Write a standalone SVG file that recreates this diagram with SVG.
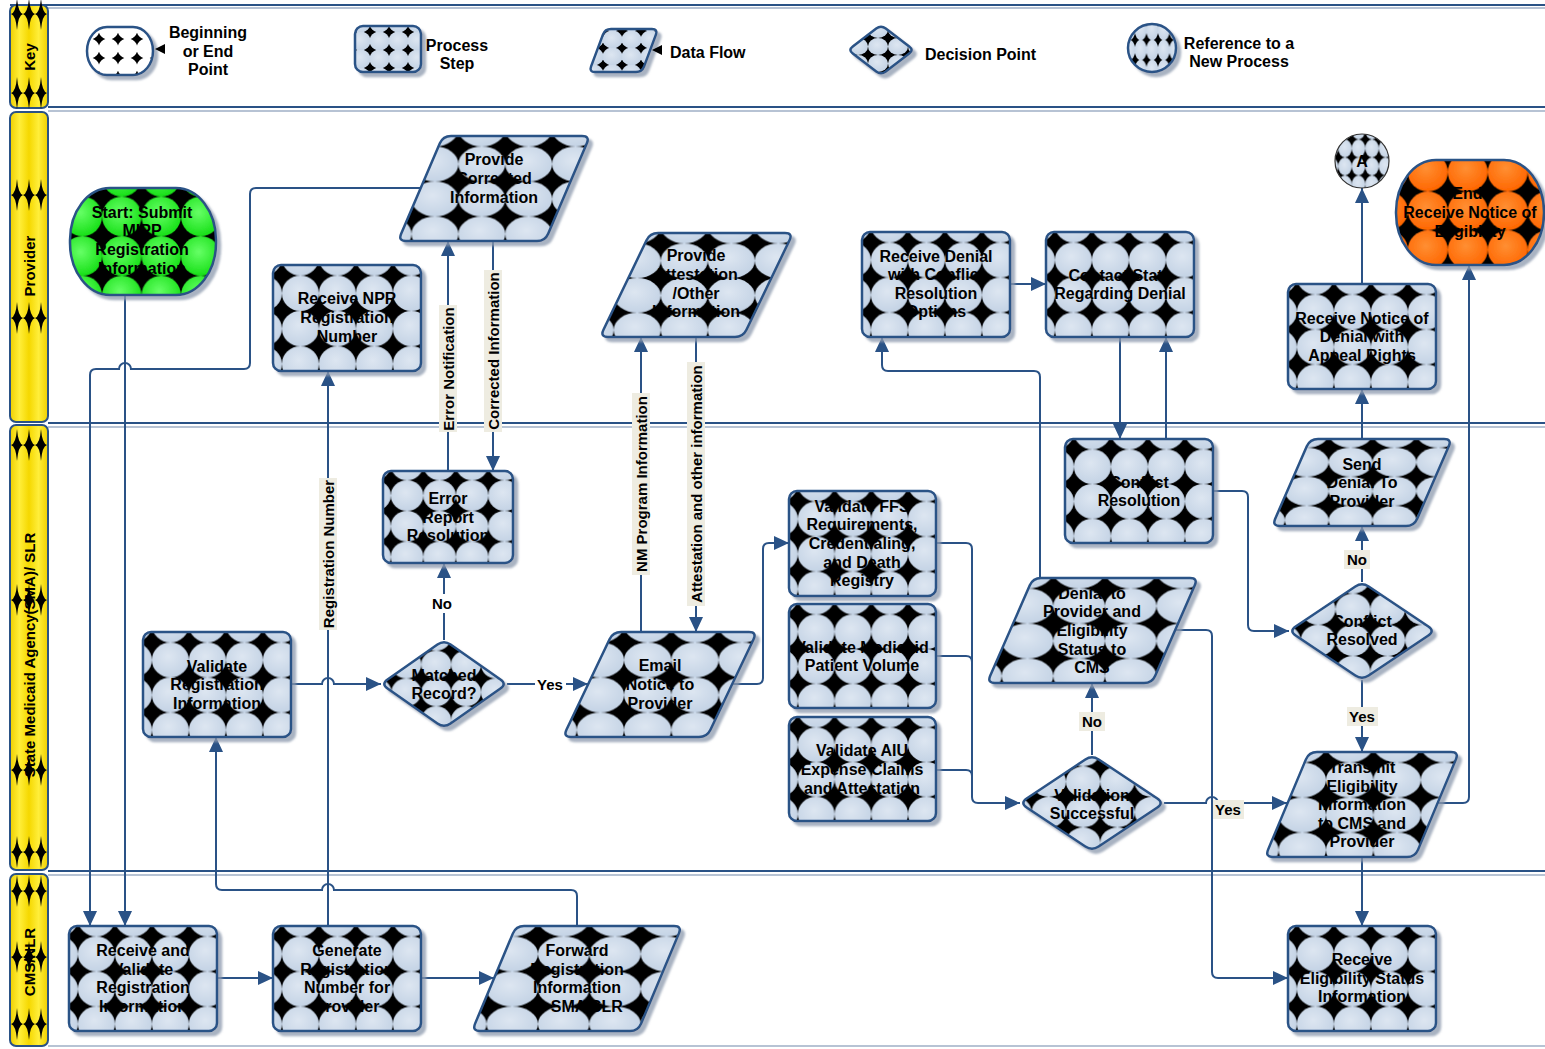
<svg xmlns="http://www.w3.org/2000/svg" xmlns:xlink="http://www.w3.org/1999/xlink" width="1545" height="1049" viewBox="0 0 1545 1049">
<style>
.t{font-family:"Liberation Sans",Arial,sans-serif;font-weight:bold;font-size:16px;text-anchor:middle;fill:#000}
.tl{font-family:"Liberation Sans",Arial,sans-serif;font-weight:bold;font-size:15px;text-anchor:middle;fill:#000}
.s{stroke:#2A5286;stroke-width:2.5;filter:url(#sh)}
.c{fill:none;stroke:#2A5286;stroke-width:2}
.a{marker-end:url(#ar)}
.dk{stroke:#2A5286;stroke-width:2}
.lt{stroke:#B7C3D4;stroke-width:2}
.bar{fill:url(#yl);stroke:#2A5286;stroke-width:2}
.bg{fill:#EEECE1}
</style>
<defs>
<filter id="sh" x="-10%" y="-10%" width="130%" height="130%">
<feGaussianBlur in="SourceAlpha" stdDeviation="1"/><feOffset dx="4" dy="4" result="o"/>
<feFlood flood-color="#8C99AD" flood-opacity="0.75"/><feComposite in2="o" operator="in"/>
<feMerge><feMergeNode/><feMergeNode in="SourceGraphic"/></feMerge>
</filter>
<marker id="ar" markerUnits="userSpaceOnUse" markerWidth="16" markerHeight="14" refX="15" refY="7" orient="auto"><path d="M0,0 L15,7 L0,14 Z" fill="#2A5286"/></marker>
<linearGradient id="yl" x1="0" y1="0" x2="1" y2="0"><stop offset="0" stop-color="#EFCF00"/><stop offset="0.25" stop-color="#FFEE3A"/><stop offset="0.5" stop-color="#F5D800"/><stop offset="0.75" stop-color="#FFEE3A"/><stop offset="1" stop-color="#EFCF00"/></linearGradient>
<radialGradient id="gB" cx="0.45" cy="0.4" r="0.6"><stop offset="0" stop-color="#DDE6F1"/><stop offset="1" stop-color="#C4D3E5"/></radialGradient>
<radialGradient id="gG" cx="0.45" cy="0.4" r="0.6"><stop offset="0" stop-color="#66FF66"/><stop offset="1" stop-color="#18E018"/></radialGradient>
<radialGradient id="gO" cx="0.45" cy="0.4" r="0.6"><stop offset="0" stop-color="#FF8F33"/><stop offset="1" stop-color="#FF6600"/></radialGradient>
<pattern id="pB" patternUnits="objectBoundingBox" width="0.25" height="0.33333" x="0.06" y="0.1" patternContentUnits="objectBoundingBox"><rect width="0.25" height="0.33333" fill="#000"/><ellipse cx="0.125" cy="0.166667" rx="0.125" ry="0.166667" fill="url(#gB)"/></pattern>
<pattern id="pG" patternUnits="objectBoundingBox" width="0.27" height="0.37" x="-0.05" y="0.08" patternContentUnits="objectBoundingBox"><rect width="0.27" height="0.37" fill="#000"/><ellipse cx="0.135" cy="0.185" rx="0.135" ry="0.185" fill="url(#gG)"/></pattern>
<pattern id="pO" patternUnits="objectBoundingBox" width="0.27" height="0.37" x="0.08" y="0.3" patternContentUnits="objectBoundingBox"><rect width="0.27" height="0.37" fill="#000"/><ellipse cx="0.135" cy="0.185" rx="0.135" ry="0.185" fill="url(#gO)"/></pattern>
<pattern id="lW" patternUnits="userSpaceOnUse" x="80" y="20" width="19" height="19"><rect width="19" height="19" fill="#000"/><ellipse cx="9.5" cy="9.5" rx="10" ry="10" fill="#fff"/></pattern>
<pattern id="lP" patternUnits="userSpaceOnUse" x="351" y="14" width="19" height="18"><rect width="19" height="18" fill="#000"/><ellipse cx="9.5" cy="9" rx="10" ry="9.5" fill="url(#gB)"/></pattern>
<pattern id="lD" patternUnits="userSpaceOnUse" x="584" y="14" width="19" height="17"><rect width="19" height="17" fill="#000"/><ellipse cx="9.5" cy="8.5" rx="10" ry="9" fill="url(#gB)"/></pattern>
<pattern id="lX" patternUnits="userSpaceOnUse" x="848" y="21" width="20" height="17"><rect width="20" height="17" fill="#000"/><ellipse cx="10" cy="8.5" rx="10" ry="8.5" fill="url(#gB)"/></pattern>
<pattern id="lR" patternUnits="userSpaceOnUse" x="1135" y="20" width="11.5" height="20"><rect width="11.5" height="20" fill="#000"/><ellipse cx="5.75" cy="10" rx="6" ry="10.3" fill="url(#gB)"/></pattern>
<path id="sp" d="M0,-16 Q1.2,-1.2 6,0 Q1.2,1.2 0,16 Q-1.2,1.2 -6,0 Q-1.2,-1.2 0,-16Z" fill="#000"/>
</defs>
<rect width="1545" height="1049" fill="#fff"/>

<g id="lanes">
<line class="dk" x1="10" y1="5" x2="1545" y2="5"/><line class="lt" x1="48" y1="8" x2="1545" y2="8"/>
<line class="dk" x1="48" y1="107" x2="1545" y2="107"/><line class="lt" x1="48" y1="111" x2="1545" y2="111"/>
<line class="dk" x1="48" y1="423" x2="1545" y2="423"/><line class="lt" x1="48" y1="427" x2="1545" y2="427"/>
<line class="dk" x1="48" y1="871" x2="1545" y2="871"/><line class="lt" x1="48" y1="875" x2="1545" y2="875"/>
<line class="lt" x1="48" y1="1046" x2="1545" y2="1046"/>
<g id="lane-key"><rect class="bar" x="10" y="5" width="38" height="103" rx="6"/>
<use href="#sp" x="17" y="14"/><use href="#sp" x="29" y="14"/><use href="#sp" x="41" y="14"/>
<use href="#sp" x="17" y="93"/><use href="#sp" x="29" y="93"/><use href="#sp" x="41" y="93"/>
<text class="tl" transform="translate(35,57) rotate(-90)">Key</text></g>
<g id="lane-provider"><rect class="bar" x="10" y="112" width="38" height="310" rx="6"/>
<use href="#sp" x="17" y="195"/><use href="#sp" x="29" y="195"/><use href="#sp" x="41" y="195"/>
<use href="#sp" x="17" y="318"/><use href="#sp" x="29" y="318"/><use href="#sp" x="41" y="318"/>
<text class="tl" transform="translate(35,266) rotate(-90)">Provider</text></g>
<g id="lane-sma"><rect class="bar" x="10" y="425" width="38" height="445" rx="6"/>
<use href="#sp" x="17" y="445"/><use href="#sp" x="29" y="445"/><use href="#sp" x="41" y="445"/>
<use href="#sp" x="17" y="600"/><use href="#sp" x="29" y="600"/><use href="#sp" x="41" y="600"/>
<use href="#sp" x="17" y="770"/><use href="#sp" x="29" y="770"/><use href="#sp" x="41" y="770"/>
<use href="#sp" x="17" y="852"/><use href="#sp" x="29" y="852"/><use href="#sp" x="41" y="852"/>
<text class="tl" transform="translate(35,655) rotate(-90)">State Medicaid Agency(SMA)/ SLR</text></g>
<g id="lane-cms"><rect class="bar" x="10" y="874" width="38" height="172" rx="6"/>
<use href="#sp" x="17" y="891"/><use href="#sp" x="29" y="891"/><use href="#sp" x="41" y="891"/>
<use href="#sp" x="17" y="957"/><use href="#sp" x="29" y="957"/><use href="#sp" x="41" y="957"/>
<use href="#sp" x="17" y="1024"/><use href="#sp" x="29" y="1024"/><use href="#sp" x="41" y="1024"/>
<text class="tl" transform="translate(35,962) rotate(-90)">CMS/NLR</text></g>
</g>

<g id="legend">
<g id="key-terminator"><rect class="s" x="87" y="27" width="66" height="48" rx="20" ry="24" fill="url(#lW)"/><path d="M165,44 L155,49 L165,54 Z" fill="#000"/>
<text class="t" x="208" y="38">Beginning</text><text class="t" x="208" y="57">or End</text><text class="t" x="208" y="75">Point</text></g>
<g id="key-process"><rect class="s" x="355" y="26" width="66" height="46" rx="8" fill="url(#lP)"/>
<text class="t" x="457" y="51">Process</text><text class="t" x="457" y="69">Step</text></g>
<g id="key-dataflow"><path class="s" fill="url(#lD)" d="M611,29 L652,29 Q658,29 655.91,34.62 L644.09,66.38 Q642,72 636,72 L595,72 Q589,72 591.09,66.38 L602.91,34.62 Q605,29 611,29 Z"/><path d="M662,45 L652,50 L662,55 Z" fill="#000"/>
<text class="t" x="670" y="58" style="text-anchor:start">Data Flow</text></g>
<g id="key-decision"><path class="s" fill="url(#lX)" d="M876.22,28.62 Q881,25 885.78,28.62 L909.22,46.38 Q914,50 909.22,53.62 L885.78,71.38 Q881,75 876.22,71.38 L852.78,53.62 Q848,50 852.78,46.38 Z"/>
<text class="t" x="925" y="60" style="text-anchor:start">Decision Point</text></g>
<g id="key-reference"><ellipse class="s" cx="1152" cy="48" rx="24" ry="24" fill="url(#lR)"/>
<text class="t" x="1239" y="49">Reference to a</text><text class="t" x="1239" y="67">New Process</text></g>
</g>

<g id="connectors">
<path class="c a" d="M125,295 V926"/>
<path class="c a" d="M421,188 H256 Q250,188 250,194 V363 Q250,369 244,369 H131 A6,6 0 0 0 119,369 H96 Q90,369 90,375 V926"/>
<path class="c a" d="M217,978 H273"/>
<path class="c a" d="M421,978 H494"/>
<path class="c a" d="M328,926 V371"/>
<path class="c a" d="M577,926 V896 Q577,890 571,890 H334 A6,6 0 0 0 322,890 H222 Q216,890 216,884 V737"/>
<path class="c a" d="M291,684 H322 A6,6 0 0 1 334,684 H381"/>
<path class="c a" d="M444,640 V563"/>
<path class="c a" d="M507,684 H588"/>
<path class="c a" d="M448,471 V241"/>
<path class="c a" d="M493,241 V471"/>
<path class="c a" d="M641,632 V337"/>
<path class="c a" d="M696,337 V632"/>
<path class="c a" d="M732,684 H757 Q763,684 763,678 V549 Q763,543 769,543 H789"/>
<path class="c a" d="M936,543 H966 Q972,543 972,549 V797 Q972,803 978,803 H1020"/>
<path class="c" d="M936,656 H966 Q972,656 972,662"/>
<path class="c" d="M936,770 H966 Q972,770 972,776"/>
<path class="c a" d="M1092,755 V683"/>
<path class="c a" d="M1164,803 H1206 A6,6 0 0 1 1218,803 H1287"/>
<path class="c a" d="M1175,630 H1206 Q1212,630 1212,636 V972 Q1212,978 1218,978 H1288"/>
<path class="c a" d="M1040,578 V377 Q1040,371 1034,371 H888 Q882,371 882,365 V337"/>
<path class="c a" d="M1010,284 H1046"/>
<path class="c a" d="M1120,337 V439"/>
<path class="c a" d="M1166,439 V337"/>
<path class="c a" d="M1213,491 H1242 Q1248,491 1248,497 V625 Q1248,631 1254,631 H1289"/>
<path class="c a" d="M1362,582 V526"/>
<path class="c a" d="M1362,680 V752"/>
<path class="c a" d="M1362,439 V389"/>
<path class="c a" d="M1362,284 V188"/>
<path class="c a" d="M1437,803 H1463 Q1469,803 1469,797 V265"/>
<path class="c a" d="M1362,857 V926"/>
<g id="labels">
<rect class="bg" x="319" y="478" width="18" height="152"/><text class="tl" transform="translate(334,554) rotate(-90)">Registration Number</text>
<rect class="bg" x="439" y="305" width="18" height="127"/><text class="tl" transform="translate(454,369) rotate(-90)">Error Notification</text>
<rect class="bg" x="484" y="270" width="18" height="162"/><text class="tl" transform="translate(499,351) rotate(-90)">Corrected Information</text>
<rect class="bg" x="632" y="393" width="18" height="182"/><text class="tl" transform="translate(647,484) rotate(-90)">NM Program Information</text>
<rect class="bg" x="687" y="362" width="18" height="244"/><text class="tl" transform="translate(702,484) rotate(-90)">Attestation and other information</text>
<rect fill="#fff" x="429" y="594" width="26" height="19"/><text class="tl" x="442" y="609">No</text>
<rect fill="#fff" x="535" y="675" width="31" height="19"/><text class="tl" x="550" y="690">Yes</text>
<rect class="bg" x="1079" y="712" width="26" height="19"/><text class="tl" x="1092" y="727">No</text>
<rect class="bg" x="1213" y="800" width="31" height="19"/><text class="tl" x="1228" y="815">Yes</text>
<rect class="bg" x="1344" y="550" width="26" height="19"/><text class="tl" x="1357" y="565">No</text>
<rect class="bg" x="1347" y="707" width="31" height="19"/><text class="tl" x="1362" y="722">Yes</text>
</g>
</g>

<g id="start"><rect class="s" x="70" y="188" width="146" height="107" rx="40" ry="52" fill="url(#pG)"/>
<text class="t" x="142" y="218">Start: Submit</text><text class="t" x="142" y="236">MIPP</text><text class="t" x="142" y="255">Registration</text><text class="t" x="142" y="274">Information</text></g>
<g id="provide-corrected"><path class="s" fill="url(#pB)" d="M451,136 L582,136 Q590,136 586.85,143.35 L548.15,233.65 Q545,241 537,241 L406,241 Q398,241 401.15,233.65 L439.85,143.35 Q443,136 451,136 Z"/>
<text class="t" x="494" y="165">Provide</text><text class="t" x="494" y="184">Corrected</text><text class="t" x="494" y="203">Information</text></g>
<g id="receive-npr"><rect class="s" x="273" y="265" width="148" height="106" rx="8" fill="url(#pB)"/>
<text class="t" x="347" y="304">Receive NPR</text><text class="t" x="347" y="323">Registration</text><text class="t" x="347" y="342">Number</text></g>
<g id="provide-attestation"><path class="s" fill="url(#pB)" d="M658,233 L785,233 Q793,233 789.53,240.21 L746.47,329.79 Q743,337 735,337 L608,337 Q600,337 603.47,329.79 L646.53,240.21 Q650,233 658,233 Z"/>
<text class="t" x="696" y="261">Provide</text><text class="t" x="696" y="280">Attestation</text><text class="t" x="696" y="299">/Other</text><text class="t" x="696" y="317">Information</text></g>
<g id="receive-denial"><rect class="s" x="862" y="232" width="148" height="105" rx="8" fill="url(#pB)"/>
<text class="t" x="936" y="262">Receive Denial</text><text class="t" x="936" y="280">with Conflict</text><text class="t" x="936" y="299">Resolution</text><text class="t" x="936" y="317">Options</text></g>
<g id="contact-state"><rect class="s" x="1046" y="232" width="148" height="105" rx="8" fill="url(#pB)"/>
<text class="t" x="1120" y="281">Contact State</text><text class="t" x="1120" y="299">Regarding Denial</text></g>
<g id="ref-a"><ellipse cx="1362" cy="161" rx="27" ry="27" fill="url(#pB)" stroke="#333" stroke-width="1.2"/>
<text class="t" x="1362" y="167">A</text></g>
<g id="end"><rect class="s" x="1396" y="160" width="148" height="105" rx="40" ry="52" fill="url(#pO)"/>
<text class="t" x="1470" y="199">End:</text><text class="t" x="1470" y="218">Receive Notice of</text><text class="t" x="1470" y="237">Eligibility</text></g>
<g id="receive-denial-appeal"><rect class="s" x="1288" y="284" width="148" height="105" rx="8" fill="url(#pB)"/>
<text class="t" x="1362" y="324">Receive Notice of</text><text class="t" x="1362" y="342">Denial with</text><text class="t" x="1362" y="361">Appeal Rights</text></g>

<g id="error-report"><rect class="s" x="383" y="471" width="130" height="92" rx="8" fill="url(#pB)"/>
<text class="t" x="448" y="504">Error</text><text class="t" x="448" y="523">Report</text><text class="t" x="448" y="541">Resolution</text></g>
<g id="validate-registration"><rect class="s" x="143" y="632" width="148" height="105" rx="8" fill="url(#pB)"/>
<text class="t" x="217" y="672">Validate</text><text class="t" x="217" y="690">Registration</text><text class="t" x="217" y="709">Information</text></g>
<g id="matched-record"><path class="s" fill="url(#pB)" d="M437.44,644.58 Q444,640 450.56,644.58 L500.44,679.42 Q507,684 500.44,688.58 L450.56,723.42 Q444,728 437.44,723.42 L387.56,688.58 Q381,684 387.56,679.42 Z"/>
<text class="t" x="444" y="681">Matched</text><text class="t" x="444" y="699">Record?</text></g>
<g id="email-notice"><path class="s" fill="url(#pB)" d="M621,632 L749,632 Q757,632 753.56,639.22 L710.44,729.78 Q707,737 699,737 L571,737 Q563,737 566.44,729.78 L609.56,639.22 Q613,632 621,632 Z"/>
<text class="t" x="660" y="671">Email</text><text class="t" x="660" y="690">Notice to</text><text class="t" x="660" y="709">Provider</text></g>
<g id="validate-ffs"><rect class="s" x="789" y="491" width="147" height="105" rx="8" fill="url(#pB)"/>
<text class="t" x="862" y="512">Validate FFS</text><text class="t" x="862" y="530">Requirements,</text><text class="t" x="862" y="549">Credentialing,</text><text class="t" x="862" y="568">and Death</text><text class="t" x="862" y="586">Registry</text></g>
<g id="validate-medicaid"><rect class="s" x="789" y="604" width="147" height="104" rx="8" fill="url(#pB)"/>
<text class="t" x="862" y="653">Validate Medicaid</text><text class="t" x="862" y="671">Patient Volume</text></g>
<g id="validate-aiu"><rect class="s" x="789" y="717" width="147" height="104" rx="8" fill="url(#pB)"/>
<text class="t" x="862" y="756">Validate AIU</text><text class="t" x="862" y="775">Expense Claims</text><text class="t" x="862" y="794">and Attestation</text></g>
<g id="conflict-resolution"><rect class="s" x="1065" y="439" width="148" height="104" rx="8" fill="url(#pB)"/>
<text class="t" x="1139" y="488">Conflict</text><text class="t" x="1139" y="506">Resolution</text></g>
<g id="denial-to-provider"><path class="s" fill="url(#pB)" d="M1041,578 L1190,578 Q1198,578 1194.79,585.33 L1155.21,675.67 Q1152,683 1144,683 L995,683 Q987,683 990.21,675.67 L1029.79,585.33 Q1033,578 1041,578 Z"/>
<text class="t" x="1092" y="599">Denial to</text><text class="t" x="1092" y="617">Provider and</text><text class="t" x="1092" y="636">Eligibility</text><text class="t" x="1092" y="655">Status to</text><text class="t" x="1092" y="673">CMS</text></g>
<g id="validation-successful"><path class="s" fill="url(#pB)" d="M1085.34,759.44 Q1092,755 1098.66,759.44 L1157.34,798.56 Q1164,803 1157.34,807.44 L1098.66,846.56 Q1092,851 1085.34,846.56 L1026.66,807.44 Q1020,803 1026.66,798.56 Z"/>
<text class="t" x="1092" y="801">Validation</text><text class="t" x="1092" y="819">Successful</text></g>
<g id="send-denial"><path class="s" fill="url(#pB)" d="M1318,439 L1444,439 Q1452,439 1448.8,446.33 L1417.2,518.67 Q1414,526 1406,526 L1280,526 Q1272,526 1275.2,518.67 L1306.8,446.33 Q1310,439 1318,439 Z"/>
<text class="t" x="1362" y="470">Send</text><text class="t" x="1362" y="488">Denial To</text><text class="t" x="1362" y="507">Provider</text></g>
<g id="conflict-resolved"><path class="s" fill="url(#pB)" d="M1355.36,586.46 Q1362,582 1368.64,586.46 L1428.36,626.54 Q1435,631 1428.36,635.46 L1368.64,675.54 Q1362,680 1355.36,675.54 L1295.64,635.46 Q1289,631 1295.64,626.54 Z"/>
<text class="t" x="1362" y="627">Conflict</text><text class="t" x="1362" y="645">Resolved</text></g>
<g id="transmit"><path class="s" fill="url(#pB)" d="M1317,752 L1451,752 Q1459,752 1455.91,759.38 L1418.09,849.62 Q1415,857 1407,857 L1273,857 Q1265,857 1268.09,849.62 L1305.91,759.38 Q1309,752 1317,752 Z"/>
<text class="t" x="1362" y="773">Transmit</text><text class="t" x="1362" y="792">Eligibility</text><text class="t" x="1362" y="810">Information</text><text class="t" x="1362" y="829">to CMS and</text><text class="t" x="1362" y="847">Provider</text></g>

<g id="receive-validate"><rect class="s" x="69" y="926" width="148" height="105" rx="8" fill="url(#pB)"/>
<text class="t" x="143" y="956">Receive and</text><text class="t" x="143" y="975">Validate</text><text class="t" x="143" y="993">Registration</text><text class="t" x="143" y="1012">Information</text></g>
<g id="generate"><rect class="s" x="273" y="926" width="148" height="105" rx="8" fill="url(#pB)"/>
<text class="t" x="347" y="956">Generate</text><text class="t" x="347" y="975">Registration</text><text class="t" x="347" y="993">Number for</text><text class="t" x="347" y="1012">Provider</text></g>
<g id="forward"><path class="s" fill="url(#pB)" d="M524,926 L674,926 Q682,926 678.91,933.38 L641.09,1023.62 Q638,1031 630,1031 L480,1031 Q472,1031 475.09,1023.62 L512.91,933.38 Q516,926 524,926 Z"/>
<text class="t" x="577" y="956">Forward</text><text class="t" x="577" y="975">Registration</text><text class="t" x="577" y="993">Information</text><text class="t" x="577" y="1012">to SMA/SLR</text></g>
<g id="receive-eligibility"><rect class="s" x="1288" y="926" width="148" height="105" rx="8" fill="url(#pB)"/>
<text class="t" x="1362" y="965">Receive</text><text class="t" x="1362" y="984">Eligibility Status</text><text class="t" x="1362" y="1002">Information</text></g>
</svg>
